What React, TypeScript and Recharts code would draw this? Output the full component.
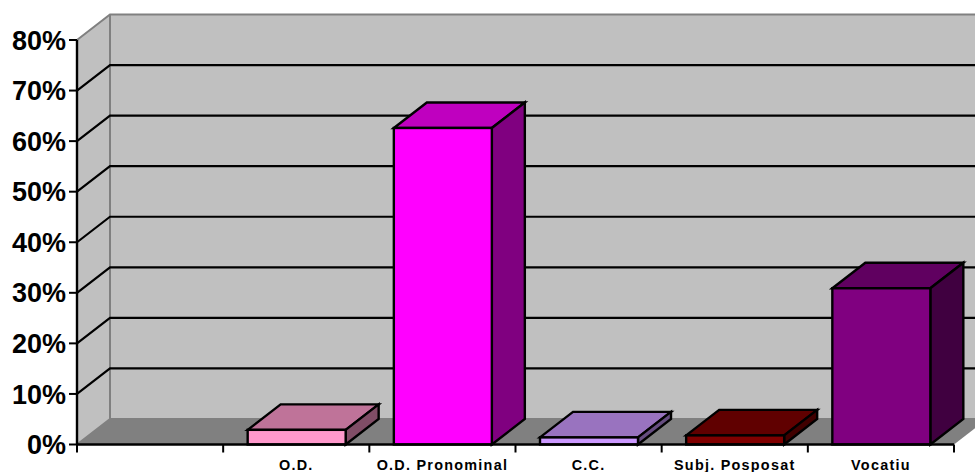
import { Bar, BarChart, CartesianGrid, ReferenceArea, XAxis, YAxis } from "recharts";

const CATEGORIES = ["", "O.D.", "O.D. Pronominal", "C.C.", "Subj. Posposat", "Vocatiu"];
const VALUES = [0, 2.9, 62.6, 1.4, 1.8, 30.9];
const Y_TICKS = [0, 10, 20, 30, 40, 50, 60, 70, 80];
const INNER_GRID = [10, 20, 30, 40, 50, 60, 70];

const FRONT_COLORS = ["none", "#ff99cc", "#ff00ff", "#cc99ff", "#800000", "#800080"];
const TOP_COLORS = ["none", "#bf7399", "#bf00bf", "#9973bf", "#600000", "#600060"];
const SIDE_COLORS = ["none", "#804d66", "#800080", "#664d80", "#400000", "#400040"];

const WALL = "#c0c0c0";
const WALL_EDGE = "#808080";
const FLOOR = "#808080";

// how far the back of the 3D box sits from its front
const DEPTH_X = 33;
const DEPTH_Y = 25.5;

const data = CATEGORIES.map((name, i) => ({ name, value: VALUES[i] }));

function Walls({ x, y, width, height }: any) {
  const bottom = y + height;
  const backX = x + DEPTH_X;
  const backRight = x + width + DEPTH_X;
  const backTop = y - DEPTH_Y;
  const backBottom = bottom - DEPTH_Y;
  return (
    <g>
      <rect x={backX} y={backTop} width={width} height={height} fill={WALL} />
      <polygon
        points={`${x},${bottom} ${x},${y} ${backX},${backTop} ${backX},${backBottom}`}
        fill={WALL}
      />
      <polygon
        points={`${x},${bottom} ${backX},${backBottom} ${backRight},${backBottom} ${x + width},${bottom}`}
        fill={FLOOR}
      />
      <path
        d={`M${x},${y} L${backX},${backTop} L${backRight},${backTop} M${backX},${backTop} L${backX},${backBottom} L${x},${bottom} M${backX},${backBottom} L${backRight},${backBottom}`}
        fill="none"
        stroke={WALL_EDGE}
        strokeWidth={2}
      />
    </g>
  );
}

function GridLine({ x1, y1, x2 }: any) {
  return (
    <path
      d={`M${x1},${y1} L${x1 + DEPTH_X},${y1 - DEPTH_Y} L${x2 + DEPTH_X},${y1 - DEPTH_Y}`}
      fill="none"
      stroke="#000"
      strokeWidth={2.2}
    />
  );
}

function Bar3D({ x: bandX, y, width, height, index }: any) {
  if (!height) return null;
  const x = bandX + 0.5;
  const right = x + width;
  const bottom = y + height;
  return (
    <g stroke="#000" strokeWidth={2.4} strokeLinejoin="miter">
      <polygon
        points={`${x},${y} ${x + DEPTH_X},${y - DEPTH_Y} ${right + DEPTH_X},${y - DEPTH_Y} ${right},${y}`}
        fill={TOP_COLORS[index]}
      />
      <polygon
        points={`${right},${y} ${right + DEPTH_X},${y - DEPTH_Y} ${right + DEPTH_X},${bottom - DEPTH_Y} ${right},${bottom}`}
        fill={SIDE_COLORS[index]}
      />
      <rect x={x} y={y} width={width} height={height} fill={FRONT_COLORS[index]} />
    </g>
  );
}

// label plus tick marks: the marks sit on the category boundaries, not the centres
function CategoryTick({ x, y, width, index, visibleTicksCount, payload }: any) {
  const band = width / visibleTicksCount;
  const left = x - band / 2;
  return (
    <g>
      <line x1={left} x2={left} y1={y} y2={y + 8} stroke="#000" strokeWidth={2} />
      {index === visibleTicksCount - 1 && (
        <line x1={left + band} x2={left + band} y1={y} y2={y + 8} stroke="#000" strokeWidth={2} />
      )}
      <text
        x={x}
        y={y + 25}
        textAnchor="middle"
        fontFamily="Liberation Sans"
        fontWeight="bold"
        fontSize={14.4}
        letterSpacing={1.25}
        fill="#000"
      >
        {payload.value}
      </text>
    </g>
  );
}

export default function App() {
  return (
    <div style={{ position: "absolute", left: 0, top: 0, width: 975, height: 472, overflow: "hidden", background: "#fff" }}>
      <BarChart
        width={975}
        height={472}
        data={data}
        barSize={98}
        margin={{ top: 40, right: 21, bottom: 26.5, left: 0 }}
      >
        <ReferenceArea y1={0} y2={80} shape={<Walls />} zIndex={-200} ifOverflow="visible" />
        <CartesianGrid vertical={false} horizontalValues={INNER_GRID} horizontal={(props: any) => <GridLine key={props.index} {...props} />} />
        <XAxis
          dataKey="name"
          height={1}
          interval={0}
          tickSize={0}
          tickMargin={0}
          tickLine={false}
          axisLine={{ stroke: "#000", strokeWidth: 2.4 }}
          tick={<CategoryTick />}
        />
        <YAxis
          width={77}
          domain={[0, 80]}
          ticks={Y_TICKS}
          interval={0}
          tickSize={8}
          tickMargin={3}
          tickFormatter={(v: number) => `${v}%`}
          axisLine={{ stroke: "#000", strokeWidth: 2.4 }}
          tickLine={{ stroke: "#000", strokeWidth: 2 }}
          tick={{ fill: "#000", fontFamily: "Liberation Sans", fontWeight: "bold", fontSize: 27 }}
        />
        <Bar dataKey="value" isAnimationActive={false} shape={<Bar3D />} />
      </BarChart>
    </div>
  );
}
